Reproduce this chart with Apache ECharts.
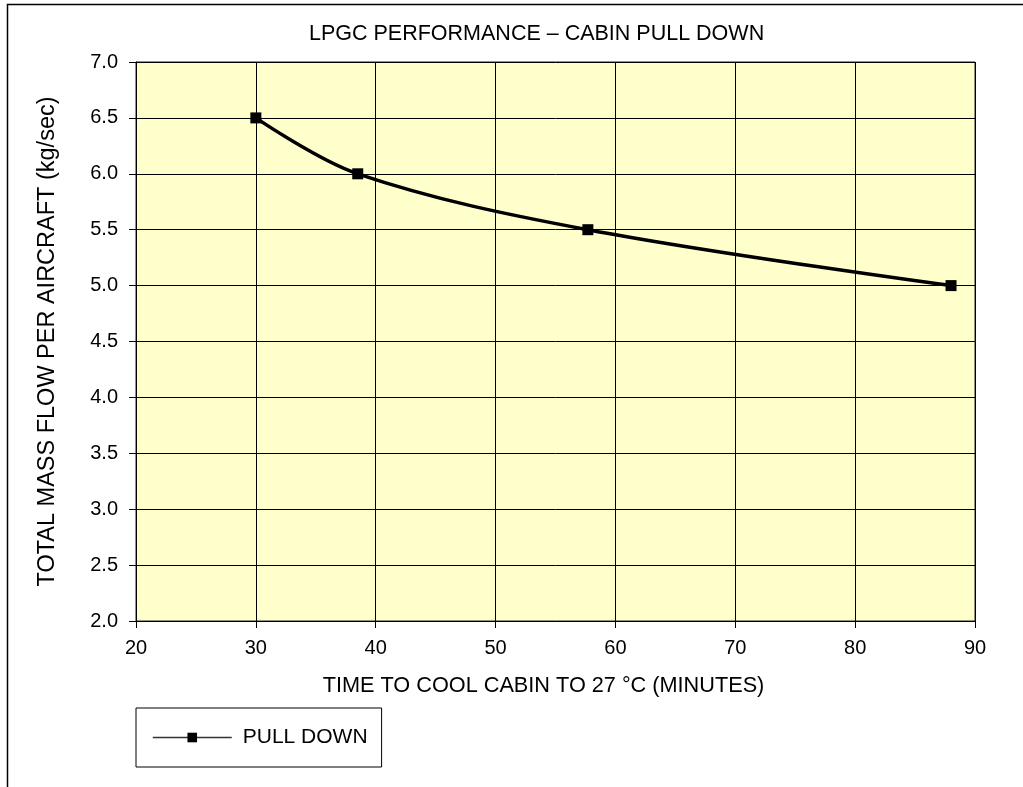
<!DOCTYPE html>
<html>
<head>
<meta charset="utf-8">
<script src="https://cdn.jsdelivr.net/npm/echarts@6/dist/echarts.min.js"></script>
<style>
html,body{margin:0;padding:0;background:#fff;}
#c{width:1023px;height:787px;}
</style>
</head>
<body>
<div id="c"></div>
<script>
const titleText = 'LPGC PERFORMANCE \u2013 CABIN PULL DOWN';
const seriesName = 'PULL DOWN';
const xName = 'TIME TO COOL CABIN TO 27 \u00B0C (MINUTES)';
const yName = 'TOTAL MASS FLOW PER AIRCRAFT (kg/sec)';
const timeMinutes = [30, 38.5, 57.7, 88];
const massFlow = [6.5, 6.0, 5.5, 5.0];

const FONT = 'Liberation Sans, Arial, Helvetica, sans-serif';
const chart = echarts.init(document.getElementById('c'));
chart.setOption({
  animation: false,
  backgroundColor: '#fff',
  title: {
    text: titleText, left: 304, top: 18,
    textStyle: {fontFamily: FONT, fontSize: 21.5, fontWeight: 'normal', color: '#000'}
  },
  graphic: [
    {type: 'polyline', shape: {points: [[7.5, 787], [7.5, 4.5], [1023, 4.5]]},
     style: {stroke: '#000', lineWidth: 1.5, fill: null}, silent: true}
  ],
  grid: {left: 136, right: 48, top: 62, bottom: 166, show: true,
    backgroundColor: '#FFFFCC', borderColor: '#222', borderWidth: 1},
  legend: {
    left: 136, top: 708,
    data: [seriesName],
    itemWidth: 79, itemHeight: 12, itemGap: 10,
    padding: [19, 14, 19, 16],
    borderColor: '#000', borderWidth: 1,
    textStyle: {fontFamily: FONT, fontSize: 21, color: '#000', padding: [0,0,0,6]},
    lineStyle: {width: 1.5, color: '#333'}
  },
  xAxis: {
    type: 'value', min: 20, max: 90, interval: 10,
    name: xName, nameLocation: 'middle', nameGap: 54,
    nameTextStyle: {fontFamily: FONT, fontSize: 21.7, color: '#000', padding: [0, 24, 0, 0]},
    axisLine: {show: true, lineStyle: {color: '#000', width: 1}},
    axisTick: {show: true, length: 7, lineStyle: {color: '#000'}},
    axisLabel: {fontFamily: FONT, fontSize: 20, color: '#000', margin: 17},
    splitLine: {show: true, lineStyle: {color: '#000', width: 1}}
  },
  yAxis: {
    type: 'value', min: 2, max: 7, interval: 0.5,
    name: yName, nameLocation: 'middle', nameGap: 76, nameRotate: 90,
    nameTextStyle: {fontFamily: FONT, fontSize: 23.5, color: '#000'},
    axisLine: {show: true, lineStyle: {color: '#000', width: 1}},
    axisTick: {show: true, length: 7, lineStyle: {color: '#000'}},
    axisLabel: {fontFamily: FONT, fontSize: 20, color: '#000', margin: 18,
      formatter: v => v.toFixed(1)},
    splitLine: {show: true, lineStyle: {color: '#000', width: 1}}
  },
  series: [{
    name: seriesName, type: 'line', smooth: 0.35,
    data: timeMinutes.map((x, i) => [x, massFlow[i]]),
    symbol: 'rect', symbolSize: 11,
    itemStyle: {color: '#000'},
    lineStyle: {color: '#000', width: 3.5}
  }]
});
</script>
</body>
</html>
